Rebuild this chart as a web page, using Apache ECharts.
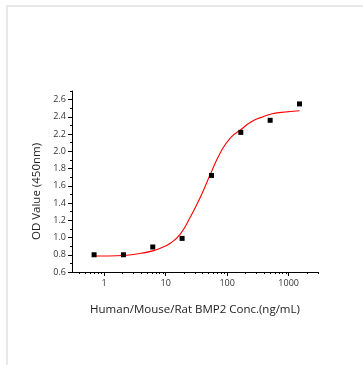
<!DOCTYPE html>
<html>
<head>
<meta charset="utf-8">
<script src="https://cdn.jsdelivr.net/npm/echarts@6/dist/echarts.min.js"></script>
<style>
  html, body { margin: 0; padding: 0; background: #fff; }
  #chart { width: 363px; height: 365px; }
</style>
</head>
<body>
<div id="chart"></div>
<script>
// measured points (conc ng/mL, OD450)
const conc = [0.686, 2.06, 6.17, 18.5, 55.6, 166.7, 500, 1500]
const od = [0.80, 0.80, 0.89, 0.99, 1.72, 2.22, 2.36, 2.55]

// fitted curve
const fitConc = [0.686, 2.06, 3.84, 6.17, 8.2, 11.9, 17.3, 25.3, 36.8, 53.7, 78.3, 114, 166, 243, 357, 524, 765, 1500]
const fitOd = [0.785, 0.792, 0.815, 0.845, 0.876, 0.934, 1.04, 1.24, 1.47, 1.74, 1.99, 2.16, 2.25, 2.34, 2.394, 2.433, 2.452, 2.47]

const xMajor = [1, 10, 100, 1000]
const xMinor = [0.4, 0.5, 0.6, 0.7, 0.8, 0.9, 2, 3, 4, 5, 6, 7, 8, 9, 20, 30, 40, 50, 60, 70, 80, 90,
  200, 300, 400, 500, 600, 700, 800, 900, 2000, 3000]
const yMajor = [0.6, 0.8, 1.0, 1.2, 1.4, 1.6, 1.8, 2.0, 2.2, 2.4, 2.6]
const yMinor = [0.7, 0.9, 1.1, 1.3, 1.5, 1.7, 1.9, 2.1, 2.3, 2.5, 2.7]

const font = '"Open Sans", "Noto Sans", sans-serif'
const chart = echarts.init(document.getElementById('chart'))

const baseX = {
  type: 'log',
  min: 0.3,
  max: 3000,
  gridIndex: 0,
  position: 'bottom',
  splitLine: { show: false }
}
const baseY = {
  type: 'value',
  min: 0.6,
  max: 2.7,
  gridIndex: 0,
  position: 'left',
  splitLine: { show: false }
}

chart.setOption({
  animation: false,
  backgroundColor: '#fff',
  graphic: [{
    type: 'rect',
    shape: { x: 7, y: 6, width: 400, height: 400 },
    style: { fill: 'none', stroke: '#e8e8e8', lineWidth: 2 },
    silent: true
  }],
  grid: { left: 72, right: 45, top: 91, bottom: 93 },
  xAxis: [{
    ...baseX,
    name: 'Human/Mouse/Rat BMP2 Conc.(ng/mL)',
    nameLocation: 'middle',
    nameGap: 32,
    nameTextStyle: { fontFamily: font, fontSize: 11.5, color: '#222' },
    axisLine: { lineStyle: { color: '#000', width: 1 } },
    axisTick: { length: 4, customValues: xMajor, lineStyle: { color: '#000' } },
    axisLabel: {
      customValues: xMajor, margin: 7, fontFamily: font, fontSize: 9, color: '#333',
      formatter: v => String(v)
    }
  }, {
    ...baseX,
    axisLine: { show: false },
    axisTick: { length: 2, customValues: xMinor, lineStyle: { color: '#000' } },
    axisLabel: { show: false }
  }],
  yAxis: [{
    ...baseY,
    name: 'OD Value (450nm)',
    nameLocation: 'middle',
    nameGap: 27,
    nameTextStyle: { fontFamily: font, fontSize: 11.5, color: '#222', padding: [0, 20, 0, 0] },
    axisLine: { show: true, lineStyle: { color: '#000', width: 1 } },
    axisTick: { show: true, length: 4, customValues: yMajor, lineStyle: { color: '#000' } },
    axisLabel: {
      customValues: yMajor, margin: 6, fontFamily: font, fontSize: 9, color: '#333',
      formatter: v => v.toFixed(1)
    }
  }, {
    ...baseY,
    axisLine: { show: false },
    axisTick: { show: true, length: 2, customValues: yMinor, lineStyle: { color: '#000' } },
    axisLabel: { show: false }
  }],
  series: [{
    type: 'line',
    data: fitConc.map((c, i) => [c, fitOd[i]]),
    smooth: true,
    showSymbol: false,
    lineStyle: { color: '#ff0000', width: 1.1 },
    z: 2
  }, {
    type: 'scatter',
    data: conc.map((c, i) => [c, od[i]]),
    symbol: 'rect',
    symbolSize: 5,
    itemStyle: { color: '#000', opacity: 1 },
    z: 3
  }]
})
</script>
</body>
</html>
